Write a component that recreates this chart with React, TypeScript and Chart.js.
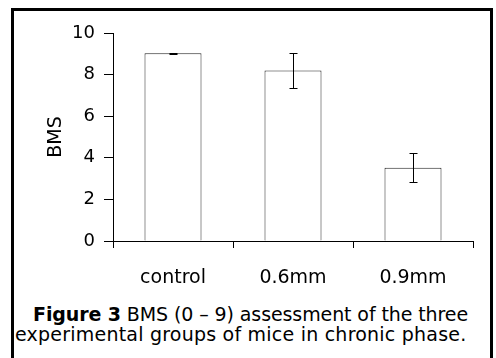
import React, { useEffect, useRef } from "react";
import { Chart, registerables } from "chart.js";

Chart.register(...registerables);

const categories = ["control", "0.6mm", "0.9mm"];
const means = [9.03, 8.2, 3.52];
const errors = [0.03, 0.84, 0.7];
const yMin = 0;
const yMax = 10;
const yStep = 2;
const yTitle = "BMS";
const captionBold = "Figure 3";
const captionLine1 = " BMS (0 – 9) assessment of the three";
const captionLine2 = "experimental groups of mice in chronic phase.";

const FONT = "'DejaVu Sans', 'Liberation Sans', Arial, sans-serif";

const errorBarPlugin = {
  id: "errorBars",
  afterDatasetsDraw(chart: any) {
    const ctx = chart.ctx;
    const meta = chart.getDatasetMeta(0);
    const yScale = chart.scales.y;
    ctx.save();
    ctx.strokeStyle = "#000";
    ctx.lineWidth = 1;
    meta.data.forEach((el: any, i: number) => {
      const x = Math.round(el.x) + 0.5;
      const top = Math.round(yScale.getPixelForValue(means[i] + errors[i])) + 0.5;
      const bot = Math.round(yScale.getPixelForValue(means[i] - errors[i])) + 0.5;
      const cap = 4;
      ctx.beginPath();
      ctx.moveTo(x, top);
      ctx.lineTo(x, bot);
      ctx.moveTo(x - cap, top);
      ctx.lineTo(x + cap, top);
      ctx.moveTo(x - cap, bot);
      ctx.lineTo(x + cap, bot);
      ctx.stroke();
    });
    ctx.restore();
  },
};

export default function App() {
  const ref = useRef<HTMLCanvasElement | null>(null);

  useEffect(() => {
    if (!ref.current) return;
    const chart = new Chart(ref.current, {
      type: "bar",
      data: {
        labels: categories,
        datasets: [
          {
            data: means,
            backgroundColor: "#ffffff",
            borderColor: "#222222",
            borderWidth: 1,
            categoryPercentage: 1,
            barPercentage: 0.475,
          },
        ],
      },
      options: {
        animation: false,
        responsive: false,
        maintainAspectRatio: false,
        layout: { padding: { left: 0, right: 23, top: 33, bottom: 0 } },
        plugins: {
          legend: { display: false },
          tooltip: { enabled: false },
        },
        scales: {
          x: {
            offset: true,
            grid: {
              display: true,
              offset: true,
              drawOnChartArea: false,
              drawTicks: true,
              tickLength: 7,
              color: "#000",
            },
            border: { display: true, color: "#000", width: 1 },
            ticks: {
              color: "#000",
              font: { family: FONT, size: 19 },
              padding: 19,
            },
            afterFit(scale: any) {
              scale.height = 59;
            },
          },
          y: {
            min: yMin,
            max: yMax,
            grid: {
              display: true,
              drawOnChartArea: false,
              drawTicks: true,
              tickLength: 9,
              color: "#000",
            },
            border: { display: true, color: "#000", width: 1 },
            ticks: {
              stepSize: yStep,
              color: "#000",
              font: { family: FONT, size: 18 },
              padding: 9,
            },
            title: {
              display: true,
              text: yTitle,
              color: "#000",
              font: { family: FONT, size: 19 },
              padding: { top: 45, bottom: 0 },
            },
            afterFit(scale: any) {
              scale.width = 113;
            },
          },
        },
      },
      plugins: [errorBarPlugin],
    });
    return () => chart.destroy();
  }, []);

  const lineStyle: React.CSSProperties = {
    position: "absolute",
    fontSize: 19,
    lineHeight: "20px",
    color: "#000",
    whiteSpace: "nowrap",
  };

  return (
    <div
      style={{
        position: "fixed",
        left: 0,
        top: 0,
        width: 496,
        height: 358,
        overflow: "hidden",
        background: "#fff",
        fontFamily: FONT,
      }}
    >
      <div
        style={{
          position: "absolute",
          left: 11,
          top: 8,
          width: 482,
          height: 400,
          border: "3px solid #000",
          boxSizing: "border-box",
        }}
      />
      <canvas
        ref={ref}
        width={496}
        height={300}
        style={{ position: "absolute", left: 0, top: 0, width: 496, height: 300 }}
      />
      <div style={{ ...lineStyle, left: 33, top: 304, letterSpacing: "-0.1px" }}>
        <b>{captionBold}</b>
        {captionLine1}
      </div>
      <div style={{ ...lineStyle, left: 15, top: 324, letterSpacing: "0.22px" }}>
        {captionLine2}
      </div>
    </div>
  );
}
